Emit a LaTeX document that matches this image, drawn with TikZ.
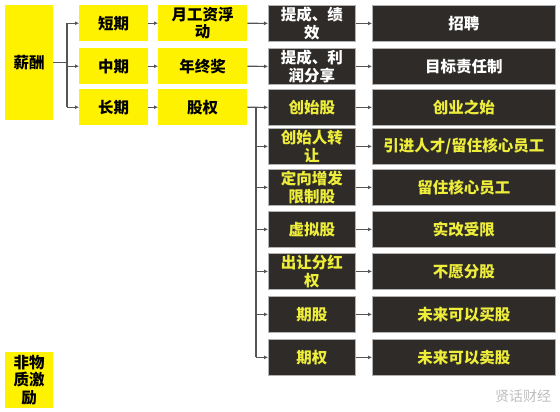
\documentclass[tikz,border=0pt]{standalone}
\usepackage{fontspec}
\setmainfont{Noto Sans CJK SC}
\usetikzlibrary{arrows.meta}
\definecolor{yel}{HTML}{FFF200}
\definecolor{dk}{HTML}{2E2B29}
\definecolor{ytx}{HTML}{EDED3A}
\definecolor{ln}{HTML}{555555}
\tikzset{
 box/.style={anchor=north west, inner sep=0pt, align=center, font=\fontsize{15.5}{17.5}\selectfont\bfseries},
 ybox/.style={box, fill=yel, text=black},
 dbox/.style={box, fill=dk, draw=gray!60, line width=0.8pt, text=white, minimum height=36pt},
 dboxy/.style={dbox, text=ytx},
 conn/.style={draw=ln, line width=1.1pt, -{Latex[length=4pt,width=4pt]}},
 plain/.style={draw=ln, line width=1.1pt},
}
\begin{document}
\begin{tikzpicture}[x=1pt,y=-1pt]
\useasboundingbox[fill=white] (0,0) rectangle (560,412);
% yellow column
\node[ybox, minimum width=48pt, minimum height=115pt] (xc) at (5,5) {薪酬};
\node[ybox, minimum width=48pt, minimum height=56pt] (fw) at (5,352) {非物\\质激\\励};
\node[ybox, minimum width=69pt, minimum height=36pt] (dq) at (79,5) {短期};
\node[ybox, minimum width=69pt, minimum height=36pt] (zq) at (79,48) {中期};
\node[ybox, minimum width=69pt, minimum height=36pt] (cq) at (79,89) {长期};
\node[ybox, minimum width=89pt, minimum height=36pt] (yg) at (158,5) {月工资浮\\动};
\node[ybox, minimum width=89pt, minimum height=36pt] (nz) at (158,48) {年终奖};
\node[ybox, minimum width=89pt, minimum height=36pt] (gq) at (158,89) {股权};
% dark column 1
\node[dbox, minimum width=87pt] (c1) at (268,5) {提成、绩\\效};
\node[dbox, minimum width=87pt] (c2) at (268,48) {提成、利\\润分享};
\node[dboxy, minimum width=87pt] (c3) at (268,89) {创始股};
\node[dboxy, minimum width=87pt] (c4) at (268,128) {创始人转\\让};
\node[dboxy, minimum width=87pt] (c5) at (268,169) {定向增发\\限制股};
\node[dboxy, minimum width=87pt] (c6) at (268,211) {虚拟股};
\node[dboxy, minimum width=87pt] (c7) at (268,253) {出让分红\\权};
\node[dboxy, minimum width=87pt] (c8) at (268,296) {期股};
\node[dboxy, minimum width=87pt] (c9) at (268,339) {期权};
% dark column 2
\node[dbox, minimum width=183pt] (d1) at (372,5) {招聘};
\node[dbox, minimum width=183pt] (d2) at (372,48) {目标责任制};
\node[dboxy, minimum width=183pt] (d3) at (372,89) {创业之始};
\node[dboxy, minimum width=183pt] (d4) at (372,128) {引进人才/留住核心员工};
\node[dboxy, minimum width=183pt] (d5) at (372,169) {留住核心员工};
\node[dboxy, minimum width=183pt] (d6) at (372,211) {实改受限};
\node[dboxy, minimum width=183pt] (d7) at (372,253) {不愿分股};
\node[dboxy, minimum width=183pt] (d8) at (372,296) {未来可以买股};
\node[dboxy, minimum width=183pt] (d9) at (372,339) {未来可以卖股};
% watermark
\node[anchor=center, text=gray!50, font=\fontsize{14}{14}\selectfont] (wm) at (523,396) {贤话财经};
% connectors from 薪酬
\coordinate (bx) at (67,0);
\draw[plain] (xc.east) -- (bx |- xc.east);
\draw[plain] (bx |- dq.west) -- (bx |- cq.west);
\foreach \n in {dq,zq,cq} \draw[conn] (bx |- \n.west) -- (\n.west);
% row connectors
\draw[conn] (dq.east) -- (yg.west);
\draw[conn] (zq.east) -- (nz.west);
\draw[conn] (cq.east) -- (gq.west);
\draw[conn] (yg.east) -- (c1.west);
\draw[conn] (nz.east) -- (c2.west);
\draw[conn] (gq.east) -- (c3.west);
\foreach \i in {1,...,9} \draw[conn] (c\i.east) -- (d\i.west);
% 股权 branch
\coordinate (gx) at (256,0);
\draw[plain] (gx |- c3.west) -- (gx |- c9.west);
\foreach \i in {4,...,9} \draw[conn] (gx |- c\i.west) -- (c\i.west);
\end{tikzpicture}
\end{document}
